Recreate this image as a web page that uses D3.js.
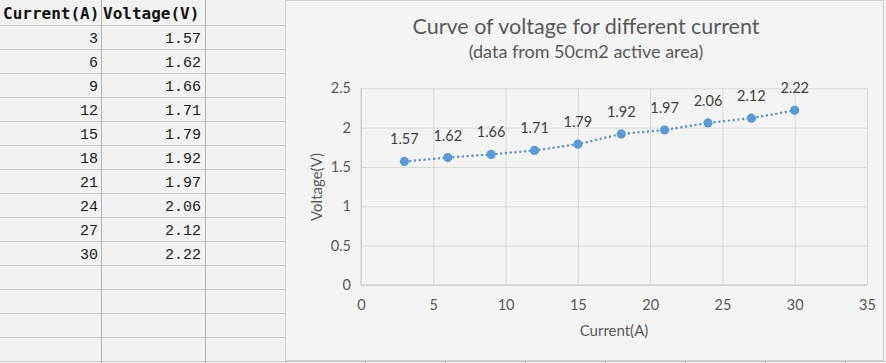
<!DOCTYPE html>
<html>
<head>
<meta charset="utf-8">
<script src="https://cdn.jsdelivr.net/npm/d3@7"></script>
<style>
  body { margin: 0; background: #f2f2f2; }
  svg { display: block; }
  .cell { font-family: "Liberation Mono", monospace; font-size: 15px; fill: #1a1a1a; }
  .head { font-family: "DejaVu Sans Mono", monospace; font-size: 16px; font-weight: bold; fill: #111; }
  .chart text { font-family: Lato, "Open Sans", sans-serif; }
  .grid line { stroke: #d9d9d9; }
  .grid path { display: none; }
  .tick-labels path, .tick-labels line { display: none; }
  .tick-labels text { fill: #595959; font-size: 14.5px; }
</style>
</head>
<body>
<svg id="sheet" width="886" height="363"></svg>
<script>
  // table / series values
  var headers = ['Current(A)', 'Voltage(V)'];
  var current = [3, 6, 9, 12, 15, 18, 21, 24, 27, 30];
  var voltage = [1.57, 1.62, 1.66, 1.71, 1.79, 1.92, 1.97, 2.06, 2.12, 2.22];
  var xTicks = [0, 5, 10, 15, 20, 25, 30, 35];
  var yTicks = [0, 0.5, 1, 1.5, 2, 2.5];
  var title = 'Curve of voltage for different current';
  var subtitle = '(data from 50cm2 active area)';

  var svg = d3.select('#sheet');

  // spreadsheet behind
  var colEdges = [101, 205, 285];
  var rowH = 24, headH = 25;
  var rows = d3.range(15).map((i) => headH + i * rowH);
  svg.append('g').selectAll('line').data(rows)
    .enter().append('line')
      .attr('x1', 0).attr('x2', 285)
      .attr('y1', (d) => d + 0.5).attr('y2', (d) => d + 0.5)
      .attr('stroke', '#c6c6c6');
  svg.append('line').attr('x1', 0).attr('x2', 886).attr('y1', 361.5).attr('y2', 361.5).attr('stroke', '#c6c6c6');
  svg.append('g').selectAll('line').data(colEdges)
    .enter().append('line')
      .attr('x1', (d) => d + 0.5).attr('x2', (d) => d + 0.5)
      .attr('y1', 0).attr('y2', 363)
      .attr('stroke', '#b4b4b4');
  svg.append('g').selectAll('line').data([365, 445, 525, 605, 685, 765, 845])
    .enter().append('line')
      .attr('x1', (d) => d + 0.5).attr('x2', (d) => d + 0.5)
      .attr('y1', 361).attr('y2', 363)
      .attr('stroke', '#b4b4b4');

  svg.append('g').selectAll('text').data(headers)
    .enter().append('text').attr('class', 'head')
      .attr('x', (d, i) => i === 0 ? 3 : 103)
      .attr('y', 19)
      .text((d) => d);

  var tbl = svg.append('g');
  current.forEach((c, i) => {
    var by = headH + i * rowH + 18;
    tbl.append('text').attr('class', 'cell').attr('x', 98).attr('y', by)
      .attr('text-anchor', 'end').text(c);
    tbl.append('text').attr('class', 'cell').attr('x', 201).attr('y', by)
      .attr('text-anchor', 'end').text(voltage[i].toFixed(2));
  });

  // chart object
  var chart = svg.append('g').attr('class', 'chart');
  chart.append('rect')
    .attr('x', 285.5).attr('y', 0.5).attr('width', 598).attr('height', 360)
    .attr('fill', '#f4f4f4').attr('stroke', '#d0d0d0');

  var x = d3.scaleLinear().domain([0, 35]).range([361, 867]);
  var y = d3.scaleLinear().domain([0, 2.5]).range([285, 88.3]);

  chart.append('g').attr('class', 'grid')
    .attr('transform', 'translate(0,285)')
    .call(d3.axisBottom(x).tickValues(xTicks).tickSize(-(285 - 88.3)).tickFormat(''));
  chart.append('g').attr('class', 'grid')
    .attr('transform', 'translate(361,0)')
    .call(d3.axisLeft(y).tickValues(yTicks).tickSize(-(867 - 361)).tickFormat(''));
  chart.append('line').attr('x1', 361).attr('x2', 867).attr('y1', 285).attr('y2', 285).attr('stroke', '#c8c8c8');
  chart.append('line').attr('x1', 361).attr('x2', 361).attr('y1', 88.3).attr('y2', 285).attr('stroke', '#c8c8c8');

  chart.append('g').attr('class', 'tick-labels')
    .attr('transform', 'translate(0,297)')
    .call(d3.axisBottom(x).tickValues(xTicks).tickSize(0).tickFormat(d3.format('d')));
  chart.append('g').attr('class', 'tick-labels')
    .attr('transform', 'translate(351,0)')
    .call(d3.axisLeft(y).tickValues(yTicks).tickSize(0).tickPadding(0).tickFormat((d) => String(d)));

  chart.append('text').attr('x', 586).attr('y', 34).attr('text-anchor', 'middle')
    .attr('fill', '#595959').style('font-size', '21.5px').text(title);
  chart.append('text').attr('x', 586).attr('y', 58).attr('text-anchor', 'middle')
    .attr('fill', '#595959').style('font-size', '18px').text(subtitle);

  chart.append('text').attr('x', 614).attr('y', 336).attr('text-anchor', 'middle')
    .attr('fill', '#595959').style('font-size', '15px').text('Current(A)');
  chart.append('text').attr('transform', 'translate(322,187) rotate(-90)')
    .attr('text-anchor', 'middle')
    .attr('fill', '#595959').style('font-size', '15px').text('Voltage(V)');

  var pts = current.map((c, i) => ({c: c, v: voltage[i]}));
  var line = d3.line().x((d) => x(d.c)).y((d) => y(d.v));
  chart.append('path').datum(pts)
    .attr('d', line)
    .attr('fill', 'none')
    .attr('stroke', '#5b8fc8')
    .attr('stroke-width', 2.2)
    .attr('stroke-dasharray', '2.2,2.6');

  chart.append('g').selectAll('circle').data(pts)
    .enter().append('circle')
      .attr('cx', (d) => x(d.c))
      .attr('cy', (d) => y(d.v))
      .attr('r', 4.6)
      .attr('fill', '#5b9bd5');

  chart.append('g').selectAll('text').data(pts)
    .enter().append('text')
      .attr('x', (d) => x(d.c))
      .attr('y', (d) => y(d.v) - 17)
      .attr('text-anchor', 'middle')
      .attr('fill', '#404040')
      .style('font-size', '14.5px')
      .text((d) => d.v.toFixed(2));
</script>
</body>
</html>
